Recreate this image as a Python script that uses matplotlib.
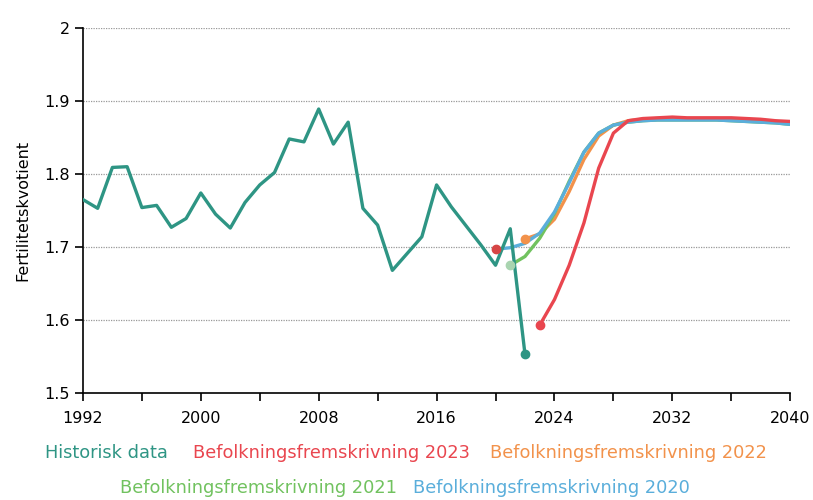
import matplotlib
matplotlib.use("Agg")
import matplotlib.pyplot as plt
from matplotlib import font_manager
import numpy as np

# data
hist_years = list(range(1992, 2023))
hist_vals = [1.765, 1.753, 1.809, 1.810, 1.754, 1.757, 1.727, 1.739, 1.774, 1.745,
             1.726, 1.761, 1.785, 1.802, 1.848, 1.844, 1.889, 1.841, 1.871, 1.753,
             1.730, 1.668, 1.691, 1.714, 1.785, 1.755, 1.729, 1.703, 1.675, 1.725,
             1.553]

proj20_years = list(range(2020, 2041))
proj20_vals = [1.697, 1.699, 1.705, 1.719, 1.748, 1.788, 1.830, 1.856, 1.867, 1.871,
               1.873, 1.874, 1.874, 1.874, 1.874, 1.874, 1.873, 1.872, 1.871, 1.870,
               1.868]

proj21_years = list(range(2021, 2041))
proj21_vals = [1.675, 1.687, 1.712, 1.746, 1.790, 1.830, 1.856, 1.867, 1.871, 1.873,
               1.874, 1.874, 1.874, 1.874, 1.874, 1.873, 1.872, 1.871, 1.870, 1.868]

proj22_years = list(range(2022, 2041))
proj22_vals = [1.711, 1.718, 1.738, 1.776, 1.820, 1.852, 1.867, 1.873, 1.875, 1.876,
               1.876, 1.876, 1.876, 1.876, 1.875, 1.874, 1.873, 1.872, 1.870]

proj23_years = list(range(2023, 2041))
proj23_vals = [1.593, 1.628, 1.675, 1.733, 1.808, 1.856, 1.873, 1.876, 1.877, 1.878,
               1.877, 1.877, 1.877, 1.877, 1.876, 1.875, 1.873, 1.872]

c_hist = "#2e9584"
c_23 = "#e9464f"
c_22 = "#f2924b"
c_21 = "#71c25f"
c_20 = "#5aaedb"

# condensed font if we have one
names = {f.name for f in font_manager.fontManager.ttflist}
narrow = "Liberation Sans Narrow" in names
if narrow:
    plt.rcParams["font.family"] = ["Liberation Sans Narrow", "DejaVu Sans"]
    fs_leg, fs_tick = 15.5, 13
else:
    fs_leg, fs_tick = 12.8, 11.5

fig = plt.figure(figsize=(8.13, 5.0), dpi=100)
ax = fig.add_axes([0.102, 0.214, 0.870, 0.730])

lw = 2.4
ax.plot(proj22_years, proj22_vals, color=c_22, lw=lw, zorder=3)
ax.plot(proj21_years, proj21_vals, color=c_21, lw=lw, zorder=3)
ax.plot(proj20_years, proj20_vals, color=c_20, lw=lw, zorder=4)
ax.plot(proj23_years, proj23_vals, color=c_23, lw=lw, zorder=5)
ax.plot(hist_years, hist_vals, color=c_hist, lw=lw, zorder=6)

# start / end markers
ax.plot(proj23_years[0], proj23_vals[0], "o", color=c_23, ms=6, zorder=7)
ax.plot(proj22_years[0], proj22_vals[0], "o", color=c_22, ms=6, zorder=7)
ax.plot(proj21_years[0], proj21_vals[0], "o", color="#a9d4b0", ms=6, zorder=7)
ax.plot(proj20_years[0], proj20_vals[0], "o", color="#d64545", ms=6, zorder=7)
ax.plot(hist_years[-1], hist_vals[-1], "o", color=c_hist, ms=6, zorder=7)

ax.set_xlim(1992, 2040)
ax.set_ylim(1.5, 2.0)
ax.set_xticks(np.arange(1992, 2041, 4))
ax.set_xticklabels([str(y) if (y - 1992) % 8 == 0 else "" for y in range(1992, 2041, 4)])
ax.set_yticks([1.5, 1.6, 1.7, 1.8, 1.9, 2.0])
ax.set_yticklabels(["1.5", "1.6", "1.7", "1.8", "1.9", "2"])
for y in [1.6, 1.7, 1.8, 1.9, 2.0]:
    ax.axhline(y, color="#999999", lw=0.9, ls=(0, (1, 1)), zorder=1)

for s in ["top", "right"]:
    ax.spines[s].set_visible(False)
ax.spines["left"].set_linewidth(1.2)
ax.spines["bottom"].set_linewidth(1.2)
ax.tick_params(axis="both", direction="out", length=6, width=1.2, labelsize=fs_tick)
ax.tick_params(axis="x", pad=7)
ax.set_ylabel("Fertilitetskvotient", fontsize=fs_tick, labelpad=10)

# coloured text legend
fig.text(0.055, 0.094, "Historisk data", color=c_hist, fontsize=fs_leg, va="center")
fig.text(0.237, 0.094, "Befolkningsfremskrivning 2023", color=c_23, fontsize=fs_leg, va="center")
fig.text(0.603, 0.094, "Befolkningsfremskrivning 2022", color=c_22, fontsize=fs_leg, va="center")
fig.text(0.148, 0.024, "Befolkningsfremskrivning 2021", color=c_21, fontsize=fs_leg, va="center")
fig.text(0.508, 0.024, "Befolkningsfremskrivning 2020", color=c_20, fontsize=fs_leg, va="center")

fig.savefig("out.png", dpi=100)
